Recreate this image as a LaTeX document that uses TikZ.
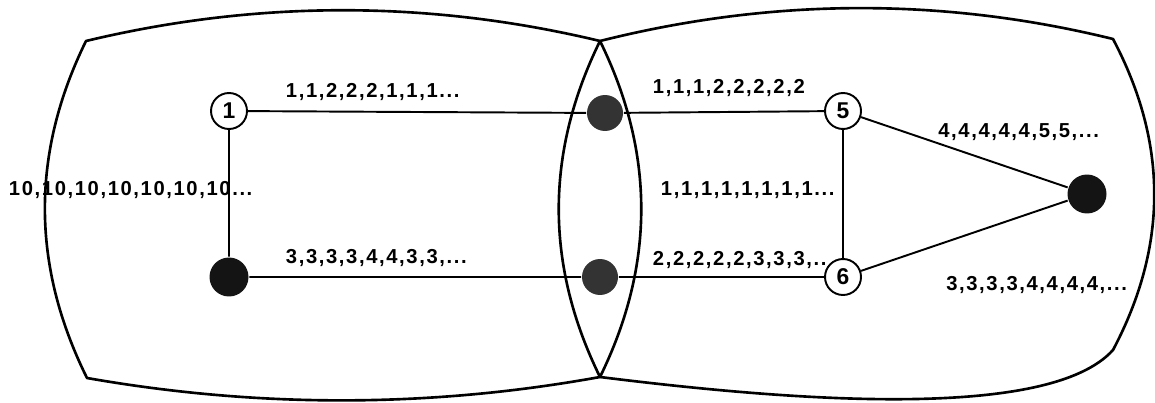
\documentclass[tikz,border=0pt]{standalone}
\usepackage{fontspec}
\setmainfont{Liberation Sans}
\newfontfamily\seqfont{Liberation Sans}[LetterSpace=8]
\usetikzlibrary{positioning}

\begin{document}
\begin{tikzpicture}[x=0.02cm, y=-0.02cm, line width=1.1pt, line join=round,
  region/.style={line width=1.5pt},
  open/.style={circle, draw, fill=white, inner sep=0pt, minimum size=0.72cm,
    font=\fontsize{13}{13}\selectfont\bfseries},
  dark/.style={circle, fill=black!92, inner sep=0pt, minimum size=0.78cm},
  grey/.style={circle, fill=black!80, inner sep=0pt, minimum size=0.72cm},
  seq/.style={inner sep=0pt, font=\fontsize{11.5}{12}\selectfont\seqfont\bfseries}]
  \useasboundingbox (0,0) rectangle (1155,402);
  % 左の領域
  \draw[region] (86,41) .. controls (257,0) and (429,0) .. (600,41)
        .. controls (655,153) and (655,265) .. (600,377)
        .. controls (429,408) and (258,408) .. (87,378)
        .. controls (31,265) and (31,153) .. cycle;
  % 右の領域
  \draw[region] (600,41) .. controls (771,-2) and (942,-3) .. (1113,39)
        .. controls (1168,143) and (1168,246) .. (1113,350)
        .. controls (1050,420) and (800,402) .. (600,377)
        .. controls (545,265) and (545,153) .. cycle;
  % 系列
  \node[seq, anchor=base west] (s1) at (285,97) {1,1,2,2,2,1,1,1...};
  \node[seq, anchor=base west] (s2) at (285,263) {3,3,3,3,4,4,3,3,...};
  \node[seq, anchor=base west] (s3) at (8,195) {10,10,10,10,10,10,10...};
  \node[seq, anchor=base west] (s4) at (652,93) {1,1,1,2,2,2,2,2};
  \node[seq, anchor=base west] (s5) at (652,265) {2,2,2,2,2,3,3,3,..};
  \node[seq, anchor=base west] (s6) at (660,195) {1,1,1,1,1,1,1,1...};
  \node[seq, anchor=base east] (s7) at (1100,137) {4,4,4,4,4,5,5,...};
  \node[seq, anchor=base east] (s8) at (1128,290) {3,3,3,3,4,4,4,4,...};
  % ノード
  \node[open] (v1) at (229,111) {1};
  \node[dark] (v2) at (229,277) {};
  \node[grey] (g1) at (605,113) {};
  \node[grey] (g2) at (600,277) {};
  \node[open] (v5) at (843,111) {5};
  \node[open] (v6) at (843,277) {6};
  \node[dark] (v7) at (1087,194) {};
  % 辺
  \draw (v1) -- (g1) -- (v5) -- (v6) -- (g2) -- (v2) -- (v1);
  \draw (v5) -- (v7) -- (v6);
\end{tikzpicture}
\end{document}
